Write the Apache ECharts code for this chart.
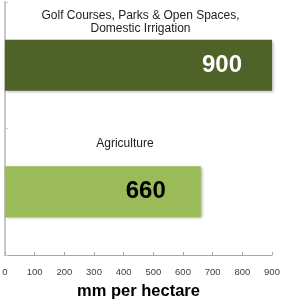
<!DOCTYPE html>
<html>
<head>
<meta charset="utf-8">
<script src="https://cdn.jsdelivr.net/npm/echarts@6/dist/echarts.min.js"></script>
<style>html,body{margin:0;padding:0;background:#fff}#c{width:283px;height:300px}</style>
</head>
<body>
<div id="c"></div>
<script>
var categories = ['Golf Courses, Parks & Open Spaces,\nDomestic Irrigation', 'Agriculture'];
var values = [900, 660];
var barColors = ['#4F6228', '#9BBB59'];
var valueLabelColors = ['#ffffff', '#000000'];
var xTicks = [0, 100, 200, 300, 400, 500, 600, 700, 800, 900];
var axisTitle = 'mm per hectare';

var catLabelOffset = [[2, 0], [22, 0]];
var catLabelDist = [5, 16];
var valueLabelDist = [30, 35];

var chart = echarts.init(document.getElementById('c'), null, {renderer: 'canvas'});
chart.setOption({
  animation: false,
  grid: {left: 5, right: 11, top: 2, bottom: 45, containLabel: false, outerBoundsMode: 'none'},
  xAxis: {
    type: 'value', min: xTicks[0], max: xTicks[xTicks.length - 1], interval: 100,
    splitLine: {show: false},
    axisLine: {show: true, lineStyle: {color: '#a6a6a6', width: 1}},
    axisTick: {show: true, inside: true, length: 3, lineStyle: {color: '#a6a6a6'}},
    axisLabel: {fontFamily: 'Liberation Sans', fontSize: 9.5, color: '#404040', margin: 12},
    name: axisTitle, nameLocation: 'middle', nameGap: 28,
    nameTextStyle: {fontFamily: 'Liberation Sans', fontSize: 16.5, fontWeight: 'bold', color: '#000'}
  },
  yAxis: {
    type: 'category', inverse: true,
    data: categories,
    axisLine: {show: true, lineStyle: {color: '#c8c8c8', width: 2}},
    axisTick: {show: true, inside: true, length: 3, lineStyle: {color: '#c8c8c8'}},
    axisLabel: {show: false}
  },
  series: [{
    type: 'bar', barWidth: 51, z: 2,
    data: values.map(function (v, i) {
      return {
        value: v,
        itemStyle: {color: barColors[i]},
        label: {color: valueLabelColors[i], distance: valueLabelDist[i]}
      };
    }),
    itemStyle: {shadowBlur: 3, shadowColor: 'rgba(0,0,0,0.35)', shadowOffsetX: 1, shadowOffsetY: 1},
    label: {
      show: true, position: 'insideRight',
      fontFamily: 'Liberation Sans', fontSize: 24, fontWeight: 'bold'
    }
  }, {
    type: 'bar', barWidth: 51, barGap: '-100%', z: 3, silent: true,
    data: values.map(function (v, i) {
      return {
        value: v,
        label: {offset: catLabelOffset[i], distance: catLabelDist[i]}
      };
    }),
    itemStyle: {color: 'rgba(0,0,0,0)'},
    label: {
      show: true, position: 'top', align: 'center',
      formatter: function (p) { return categories[p.dataIndex]; },
      fontFamily: 'Liberation Sans', fontSize: 12, lineHeight: 13, color: '#222'
    }
  }]
});
</script>
</body>
</html>
